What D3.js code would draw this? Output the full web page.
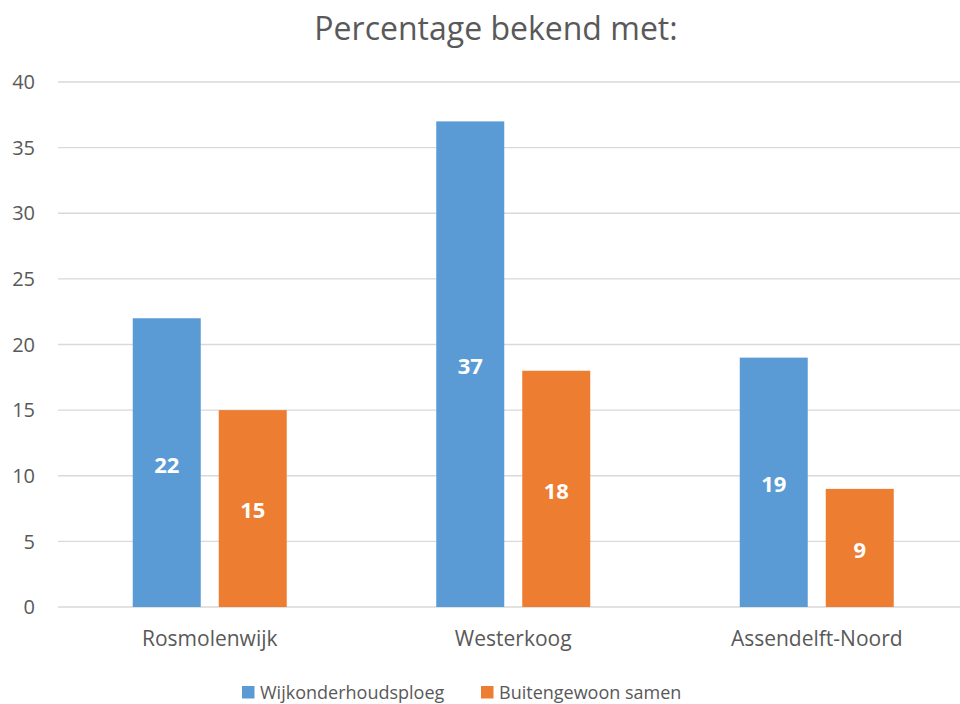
<!DOCTYPE html>
<html>
<head>
<meta charset="utf-8">
<script src="https://cdn.jsdelivr.net/npm/d3@7"></script>
<style>
  body { margin: 0; background: #fff; }
  svg { display: block; font-family: "Open Sans", sans-serif; }
</style>
</head>
<body>
<div id="chart"></div>
<script>
(function(){
    // Chart data
    const categories = ["Rosmolenwijk", "Westerkoog", "Assendelft-Noord"];
    const seriesNames = ["Wijkonderhoudsploeg", "Buitengewoon samen"];
    const wijkonderhoudsploeg = [22, 37, 19];
    const buitengewoonSamen = [15, 18, 9];
    const yTicks = [0, 5, 10, 15, 20, 25, 30, 35, 40];

    const width = 960;
    const height = 704;
    const colors = ["#5b9bd5", "#ed7d31"];
    const textColor = "#595959";

    const svg = d3.select("#chart").append("svg")
        .attr("width", width)
        .attr("height", height);

    // Scales
    const x = d3.scaleBand().domain(categories).range([58, 968.5]);
    const y = d3.scaleLinear().domain([0, 40]).range([607, 82]);
    const barW = 68, barGap = 18;

    // Gridlines
    svg.append("g")
        .selectAll("line")
        .data(yTicks)
        .enter().append("line")
        .attr("x1", 58)
        .attr("x2", width)
        .attr("y1", d => y(d))
        .attr("y2", d => y(d))
        .attr("stroke", "#d9d9d9")
        .attr("stroke-width", 1.3);

    // Y tick labels
    svg.append("g")
        .selectAll("text")
        .data(yTicks)
        .enter().append("text")
        .attr("x", 35)
        .attr("y", d => y(d))
        .attr("dy", "0.36em")
        .attr("text-anchor", "end")
        .attr("fill", textColor)
        .style("font-size", "20px")
        .text(d => d);

    // Bars
    const rows = categories.map((c, i) => ({
        cat: c,
        values: [wijkonderhoudsploeg[i], buitengewoonSamen[i]]
    }));

    const groups = svg.append("g")
        .selectAll("g")
        .data(rows)
        .enter().append("g")
        .attr("transform", d => `translate(${x(d.cat) + x.bandwidth() / 2 - barW - barGap / 2},0)`);

    groups.selectAll("rect")
        .data(d => d.values.map((v, k) => ({ v, k })))
        .enter().append("rect")
        .attr("x", d => d.k * (barW + barGap))
        .attr("width", barW)
        .attr("y", d => y(d.v))
        .attr("height", d => y(0) - y(d.v))
        .attr("fill", d => colors[d.k]);

    // Value labels in the middle of each bar
    groups.selectAll("text")
        .data(d => d.values.map((v, k) => ({ v, k })))
        .enter().append("text")
        .attr("x", d => d.k * (barW + barGap) + barW / 2)
        .attr("y", d => y(d.v / 2) + 2)
        .attr("dy", "0.36em")
        .attr("text-anchor", "middle")
        .attr("fill", "#fff")
        .style("font-size", "22px")
        .style("font-weight", "bold")
        .text(d => d.v);

    // Category labels
    svg.append("g")
        .selectAll("text")
        .data(categories)
        .enter().append("text")
        .attr("x", d => x(d) + x.bandwidth() / 2)
        .attr("y", 646)
        .attr("text-anchor", "middle")
        .attr("fill", textColor)
        .style("font-size", "21px")
        .text(d => d);

    // Title
    svg.append("text")
        .attr("x", 496)
        .attr("y", 40)
        .attr("text-anchor", "middle")
        .attr("fill", textColor)
        .style("font-size", "32px")
        .text("Percentage bekend met:");

    // Legend
    const legendX = [242, 481];
    const legend = svg.append("g")
        .selectAll("g")
        .data(seriesNames)
        .enter().append("g")
        .attr("transform", (d, i) => `translate(${legendX[i]},686)`);

    legend.append("rect")
        .attr("width", 12.5)
        .attr("height", 12.5)
        .attr("fill", (d, i) => colors[i]);

    legend.append("text")
        .attr("x", 18)
        .attr("y", 6.5)
        .attr("dy", "0.36em")
        .attr("fill", textColor)
        .style("font-size", "18px")
        .text(d => d);
})();
</script>
</body>
</html>
